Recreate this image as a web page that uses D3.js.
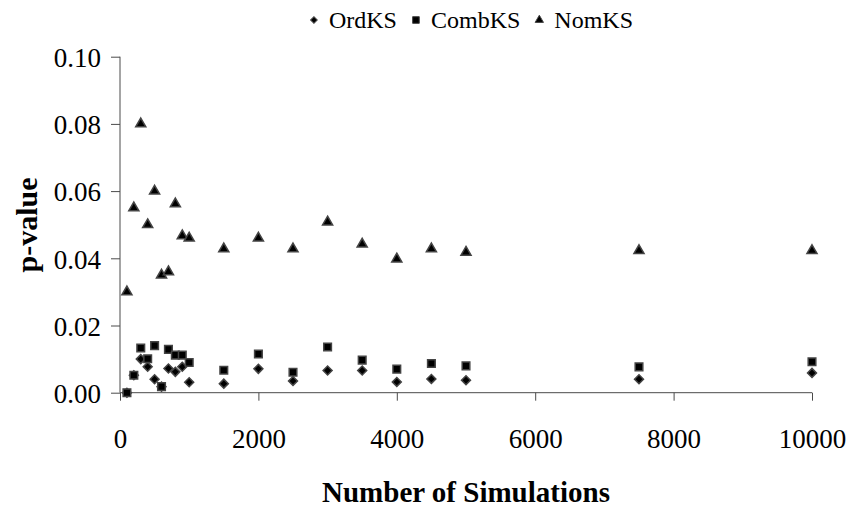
<!DOCTYPE html>
<html>
<head>
<meta charset="utf-8">
<script src="https://cdn.jsdelivr.net/npm/d3@7/dist/d3.min.js"></script>
<style>
  html, body { margin: 0; padding: 0; background: #fff; }
  svg { display: block; }
</style>
</head>
<body>
<svg id="chart" width="851" height="510"></svg>
<script>
// Number of simulations for each run
const simulations = [100, 200, 300, 400, 500, 600, 700, 800, 900, 1000,
                     1500, 2000, 2500, 3000, 3500, 4000, 4500, 5000, 7500, 10000];

// p-values per test
const ordKS  = [0.0000, 0.0052, 0.0100, 0.0077, 0.0040, 0.0018, 0.0072, 0.0062, 0.0077, 0.0031,
                0.0027, 0.0071, 0.0035, 0.0066, 0.0066, 0.0032, 0.0041, 0.0037, 0.0040, 0.0059];
const combKS = [0.0000, 0.0052, 0.0133, 0.0101, 0.0140, 0.0018, 0.0129, 0.0112, 0.0112, 0.0090,
                0.0067, 0.0115, 0.0061, 0.0136, 0.0097, 0.0070, 0.0087, 0.0080, 0.0077, 0.0092];
const nomKS  = [0.0300, 0.0550, 0.0800, 0.0500, 0.0600, 0.0350, 0.0360, 0.0562, 0.0467, 0.0460,
                0.0428, 0.0460, 0.0428, 0.0508, 0.0442, 0.0398, 0.0428, 0.0418, 0.0423, 0.0423];

const seriesNames = ["OrdKS", "CombKS", "NomKS"];
const xTicks = [0, 2000, 4000, 6000, 8000, 10000];
const yTicks = [0, 0.02, 0.04, 0.06, 0.08, 0.10];

const FONT = "'Liberation Serif', 'Times New Roman', serif";

// Diamond drawn as a square turned by 45 degrees
const series = [
  { name: seriesNames[0], values: ordKS,  symbol: d3.symbolSquare,   rotate: 45, size: 40, legendSize: 22 },
  { name: seriesNames[1], values: combKS, symbol: d3.symbolSquare,   rotate: 0,  size: 58, legendSize: 44 },
  { name: seriesNames[2], values: nomKS,  symbol: d3.symbolTriangle, rotate: 0,  size: 44, legendSize: 30 }
];

const svg = d3.select("#chart");

const x = d3.scaleLinear().domain([0, 10000]).range([120, 812]);
const y = d3.scaleLinear().domain([0, 0.10]).range([392.7, 56.7]);

const axisColor = "#4a4a4a";

// Y axis
const yAxis = svg.append("g")
  .attr("transform", `translate(${x(0)},0)`)
  .call(d3.axisLeft(y).tickValues(yTicks).tickSize(9).tickPadding(10)
        .tickFormat(d3.format(".2f")))
  .attr("font-family", null).attr("font-size", null);
yAxis.select(".domain").attr("stroke", axisColor).attr("d", `M0,${y(0.10)}V${y(0)}`);
yAxis.selectAll(".tick line").attr("stroke", axisColor);
yAxis.selectAll(".tick text")
  .style("font-family", FONT)
  .style("font-size", "27px")
  .attr("fill", "#000")
  .attr("dy", "0.36em");

// X axis
const xAxis = svg.append("g")
  .attr("transform", `translate(0,${y(0)})`)
  .call(d3.axisBottom(x).tickValues(xTicks).tickSize(8).tickPadding(28)
        .tickFormat(d3.format("d")))
  .attr("font-family", null).attr("font-size", null);
xAxis.select(".domain").attr("stroke", axisColor).attr("d", `M${x(0)},0H${x(10000)}`);
xAxis.selectAll(".tick line").attr("stroke", axisColor);
xAxis.selectAll(".tick text")
  .style("font-family", FONT)
  .style("font-size", "27px")
  .attr("fill", "#000");

// Axis titles
svg.append("text")
  .attr("x", 466).attr("y", 502)
  .attr("text-anchor", "middle")
  .style("font-family", FONT)
  .style("font-size", "29px").style("font-weight", "bold")
  .text("Number of Simulations");

svg.append("text")
  .attr("transform", "translate(37,225) rotate(-90)")
  .attr("text-anchor", "middle")
  .style("font-family", FONT)
  .style("font-size", "30px").style("font-weight", "bold")
  .text("p-value");

// Markers (later series drawn on top)
series.forEach(s => {
  const sym = d3.symbol().type(s.symbol).size(s.size);
  svg.append("g").selectAll("path")
    .data(simulations.map((n, i) => ({ n, v: s.values[i] })))
    .join("path")
    .attr("transform", d => `translate(${x(d.n)},${y(d.v)}) rotate(${s.rotate})`)
    .attr("d", sym)
    .attr("fill", "#000")
    .attr("stroke", "#444")
    .attr("stroke-width", 1.5);
});

// Legend
const legend = svg.append("g");
let cursor = 0;
series.forEach(s => {
  const g = legend.append("g");
  g.append("path")
    .attr("d", d3.symbol().type(s.symbol).size(s.legendSize)())
    .attr("fill", "#000").attr("stroke", "#444").attr("stroke-width", 1)
    .attr("transform", `translate(0,20) rotate(${s.rotate})`);
  const t = g.append("text")
    .attr("x", 15).attr("y", 28)
    .style("font-family", FONT)
    .style("font-size", "24px")
    .text(s.name);
  const w = 15 + t.node().getComputedTextLength();
  g.attr("transform", `translate(${cursor},0)`);
  cursor += w + 19;
});
const legendWidth = cursor - 19;
legend.attr("transform", `translate(${633 - legendWidth},0)`);
</script>
</body>
</html>
